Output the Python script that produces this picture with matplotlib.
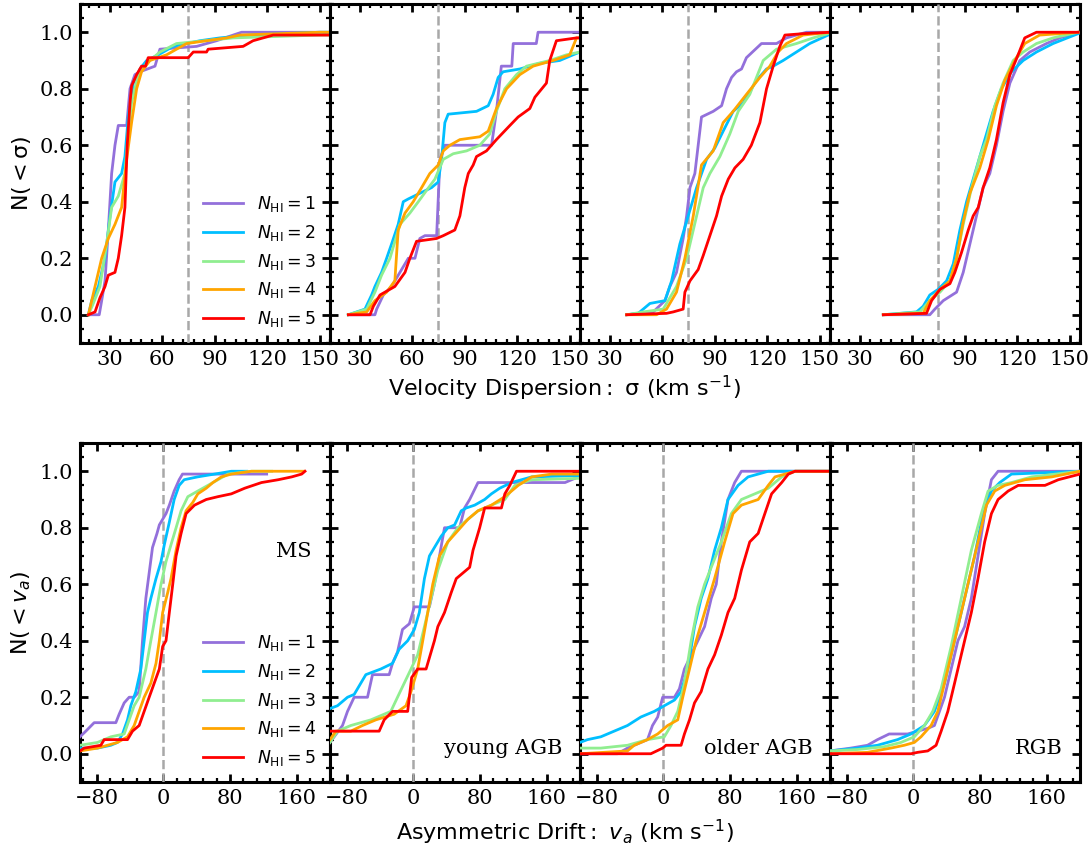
import matplotlib
matplotlib.use("Agg")
import matplotlib.pyplot as plt
from matplotlib.ticker import AutoMinorLocator

# ---------------- data ----------------
labels = [r'$N_{\rm HI} = 1$', r'$N_{\rm HI} = 2$', r'$N_{\rm HI} = 3$',
          r'$N_{\rm HI} = 4$', r'$N_{\rm HI} = 5$']
colors = ['#9370DB', '#00BFFF', '#90EE90', '#FFA500', '#FF0000']
groups = ['MS', 'young AGB', 'older AGB', 'RGB']

sig_ticks = [30, 60, 90, 120, 150]
va_ticks = [-80, 0, 80, 160]
y_ticks = [0.0, 0.2, 0.4, 0.6, 0.8, 1.0]
sig_ref = 75
va_ref = 0

# ---- velocity dispersion, MS ----
sig_ms_1_x = [17.8, 24.0, 25.4, 27.3, 29.2, 31.1, 33.0, 34.9, 39.7, 41.6, 44.4, 47.3, 55.9, 58.7, 79.7, 91.1, 105.4, 156]
sig_ms_1_y = [0, 0, 0.05, 0.12, 0.30, 0.50, 0.60, 0.67, 0.67, 0.80, 0.85, 0.86, 0.88, 0.94, 0.95, 0.97, 1.0, 1.0]
sig_ms_2_x = [17.8, 19.7, 23.5, 27.3, 30.2, 33.0, 36.8, 38.7, 40.6, 43.5, 47.3, 51.1, 57.8, 66.3, 74.0, 81.6, 93.0, 110, 150, 156]
sig_ms_2_y = [0, 0.05, 0.10, 0.20, 0.35, 0.47, 0.50, 0.56, 0.70, 0.82, 0.87, 0.90, 0.92, 0.95, 0.96, 0.97, 0.98, 0.99, 1.0, 1.0]
sig_ms_3_x = [17.8, 20.6, 24.4, 28.2, 31.1, 34.9, 38.7, 40.6, 42.5, 46.3, 51.1, 58.7, 68.2, 100.6, 150, 156]
sig_ms_3_y = [0, 0.04, 0.10, 0.25, 0.38, 0.42, 0.50, 0.65, 0.75, 0.85, 0.89, 0.93, 0.96, 0.98, 0.99, 0.99]
sig_ms_4_x = [17.8, 19.7, 21.6, 25.4, 29.2, 33.0, 36.8, 39.7, 42.5, 45.4, 48.2, 53.0, 62.5, 68.2, 74.0, 85.4, 96.8, 104.4, 150, 156]
sig_ms_4_y = [0, 0.05, 0.10, 0.20, 0.27, 0.32, 0.38, 0.55, 0.68, 0.80, 0.86, 0.90, 0.92, 0.94, 0.96, 0.97, 0.98, 0.99, 1.0, 1.0]
sig_ms_5_x = [17.8, 21.6, 24.4, 27.3, 29.2, 33.0, 34.9, 36.8, 38.7, 40.0, 41.6, 42.5, 45.4, 48.2, 50.5, 52.0, 74.9, 77.8, 85.4, 86.3, 106.3, 112, 123.5, 156]
sig_ms_5_y = [0, 0.01, 0.06, 0.10, 0.14, 0.15, 0.20, 0.28, 0.38, 0.60, 0.75, 0.81, 0.85, 0.88, 0.88, 0.91, 0.91, 0.93, 0.93, 0.94, 0.95, 0.97, 0.99, 0.99]

# ---- velocity dispersion, young AGB ----
sig_yagb_1_x = [23.5, 38.7, 39.7, 43.5, 48.2, 53.0, 57.8, 61.6, 64.4, 67.3, 74.0, 75.9, 78.7, 105.4, 108.2, 111.0, 117.0, 117.8, 131.0, 132.0, 156]
sig_yagb_1_y = [0, 0, 0.02, 0.07, 0.10, 0.15, 0.20, 0.20, 0.27, 0.28, 0.28, 0.55, 0.60, 0.60, 0.72, 0.88, 0.88, 0.96, 0.96, 1.0, 1.0]
sig_yagb_2_x = [23.5, 33.0, 36.8, 38.7, 42.5, 45.4, 48.2, 52.0, 54.9, 57.8, 64.4, 71.1, 74.9, 76.8, 78.7, 80.6, 96.8, 103.5, 106.3, 109.2, 112.0, 121.6, 133.0, 144.4, 152.0, 156]
sig_yagb_2_y = [0, 0.02, 0.07, 0.10, 0.15, 0.20, 0.25, 0.32, 0.40, 0.41, 0.43, 0.45, 0.47, 0.55, 0.68, 0.71, 0.72, 0.74, 0.78, 0.84, 0.86, 0.87, 0.89, 0.90, 0.92, 0.93]
sig_yagb_3_x = [23.5, 34.0, 38.7, 42.5, 47.3, 53.0, 58.7, 63.5, 68.2, 73.0, 77.8, 83.5, 91.1, 98.7, 104.4, 108.2, 113.0, 119.7, 125.4, 138.7, 148.2, 156]
sig_yagb_3_y = [0, 0.02, 0.08, 0.14, 0.20, 0.32, 0.36, 0.40, 0.44, 0.48, 0.55, 0.57, 0.58, 0.60, 0.64, 0.72, 0.80, 0.85, 0.88, 0.90, 0.92, 0.93]
sig_yagb_4_x = [23.5, 34.0, 38.7, 45.4, 50.1, 52.0, 55.9, 60.6, 65.4, 70.1, 74.9, 77.8, 81.6, 87.3, 98.7, 103.5, 108.2, 114.0, 121.6, 129.2, 140.6, 150.1, 154.0, 156]
sig_yagb_4_y = [0, 0.01, 0.05, 0.08, 0.12, 0.30, 0.36, 0.40, 0.45, 0.50, 0.53, 0.58, 0.60, 0.62, 0.63, 0.65, 0.73, 0.80, 0.85, 0.88, 0.90, 0.92, 0.98, 0.98]
sig_yagb_5_x = [23.5, 35.9, 37.8, 41.6, 50.1, 55.9, 58.7, 62.5, 74.0, 77.8, 84.4, 87.3, 90.1, 92.1, 94.9, 96.8, 102.5, 108.2, 115.9, 120.6, 127.3, 130.2, 136.8, 138.7, 142.5, 154.0, 156]
sig_yagb_5_y = [0, 0, 0.03, 0.07, 0.10, 0.15, 0.20, 0.26, 0.27, 0.28, 0.30, 0.35, 0.45, 0.50, 0.53, 0.56, 0.58, 0.62, 0.67, 0.70, 0.73, 0.77, 0.82, 0.90, 0.97, 0.98, 0.98]

# ---- velocity dispersion, older AGB ----
sig_oagb_1_x = [39.7, 54.9, 61.6, 64.4, 68.2, 72.0, 74.0, 75.9, 78.7, 80.6, 82.5, 89.2, 94.0, 96.8, 99.7, 102.5, 105.4, 108.2, 116.8, 125.4, 131.1, 142.5, 156]
sig_oagb_1_y = [0, 0.01, 0.05, 0.10, 0.15, 0.27, 0.35, 0.45, 0.50, 0.60, 0.70, 0.72, 0.74, 0.80, 0.84, 0.86, 0.87, 0.91, 0.96, 0.96, 0.98, 1.0, 1.0]
sig_oagb_2_x = [39.7, 46.3, 53.0, 61.6, 65.4, 70.1, 74.9, 79.7, 85.4, 90.1, 94.9, 100.6, 106.3, 114.0, 119.7, 123.5, 129.2, 136.8, 144.4, 154.9]
sig_oagb_2_y = [0, 0.005, 0.04, 0.05, 0.12, 0.25, 0.35, 0.45, 0.55, 0.59, 0.65, 0.72, 0.75, 0.83, 0.87, 0.88, 0.90, 0.93, 0.96, 0.99]
sig_oagb_3_x = [39.7, 49.2, 60.6, 68.2, 74.0, 79.7, 83.5, 87.3, 93.0, 98.7, 103.5, 110.1, 117.8, 125.4, 136.8, 146.4, 154.9]
sig_oagb_3_y = [0, 0.01, 0.02, 0.10, 0.20, 0.35, 0.45, 0.50, 0.56, 0.64, 0.72, 0.78, 0.90, 0.94, 0.96, 0.98, 0.995]
sig_oagb_4_x = [39.7, 56.8, 62.5, 68.2, 73.0, 77.8, 82.5, 89.2, 94.9, 100.6, 108.2, 115.9, 121.6, 126.3, 131.1, 140.6, 156]
sig_oagb_4_y = [0, 0, 0.02, 0.08, 0.20, 0.35, 0.53, 0.58, 0.68, 0.72, 0.78, 0.84, 0.88, 0.93, 0.96, 0.99, 1.0]
sig_oagb_5_x = [39.7, 62.5, 66.3, 72.0, 73.0, 75.9, 80.6, 83.5, 87.3, 91.1, 94.0, 97.8, 101.6, 106.3, 111.0, 115.9, 119.7, 123.5, 127.3, 130.2, 140.6, 156]
sig_oagb_5_y = [0, 0.005, 0.01, 0.02, 0.08, 0.12, 0.16, 0.21, 0.28, 0.35, 0.42, 0.48, 0.52, 0.55, 0.60, 0.68, 0.80, 0.88, 0.95, 0.99, 0.995, 1.0]

# ---- velocity dispersion, RGB ----
sig_rgb_1_x = [43.5, 70.1, 73.0, 77.8, 85.4, 89.2, 93.0, 96.8, 100.6, 104.4, 108.2, 112.0, 115.9, 121.6, 127.3, 136.8, 144.4, 154.9]
sig_rgb_1_y = [0, 0, 0.02, 0.05, 0.08, 0.15, 0.25, 0.35, 0.45, 0.50, 0.60, 0.72, 0.82, 0.90, 0.93, 0.96, 0.98, 1.0]
sig_rgb_2_x = [43.5, 53.0, 62.5, 66.3, 70.1, 74.9, 79.7, 83.5, 87.3, 91.1, 94.9, 98.7, 102.5, 106.3, 111.0, 116.8, 123.5, 131.1, 140.6, 154.9]
sig_rgb_2_y = [0, 0.005, 0.01, 0.03, 0.07, 0.09, 0.12, 0.18, 0.30, 0.40, 0.48, 0.56, 0.64, 0.72, 0.80, 0.86, 0.90, 0.93, 0.96, 0.995]
sig_rgb_3_x = [43.5, 64.4, 70.1, 75.9, 81.6, 85.4, 89.2, 94.0, 98.7, 102.5, 107.3, 112.0, 117.8, 123.5, 131.1, 140.6, 154.9]
sig_rgb_3_y = [0, 0.01, 0.05, 0.08, 0.12, 0.20, 0.32, 0.45, 0.56, 0.62, 0.74, 0.82, 0.90, 0.93, 0.96, 0.98, 1.0]
sig_rgb_4_x = [43.5, 66.3, 70.1, 75.9, 81.6, 85.4, 89.2, 93.0, 98.7, 103.5, 108.2, 113.0, 118.7, 124.4, 132.9, 154.9]
sig_rgb_4_y = [0, 0.005, 0.05, 0.09, 0.12, 0.20, 0.33, 0.43, 0.52, 0.62, 0.74, 0.83, 0.90, 0.96, 0.99, 1.0]
sig_rgb_5_x = [43.5, 68.2, 71.1, 75.9, 81.6, 84.4, 88.2, 92.1, 94.9, 97.8, 100.6, 104.4, 108.2, 112.0, 115.9, 120.6, 124.4, 131.1, 154.9]
sig_rgb_5_y = [0, 0.005, 0.05, 0.09, 0.11, 0.15, 0.22, 0.30, 0.35, 0.38, 0.45, 0.52, 0.62, 0.75, 0.85, 0.92, 0.98, 1.0, 1.0]

# ---- asymmetric drift, MS ----
va_ms_1_x = [-100, -93, -83, -57, -53, -47, -41, -35, -29, -25, -21, -17, -13, -7.6, -4.8, -0.8, 3.2, 7.2, 13, 19, 23, 124]
va_ms_1_y = [0.06, 0.08, 0.11, 0.11, 0.14, 0.18, 0.20, 0.20, 0.22, 0.40, 0.55, 0.64, 0.73, 0.78, 0.81, 0.83, 0.85, 0.88, 0.93, 0.97, 0.99, 0.99]
va_ms_2_x = [-100, -79, -63, -55, -49, -43, -39, -33, -27, -23, -19, -15, -8.8, -2.8, 1.2, 7.2, 13, 19, 25, 41, 61.5, 81.6, 100]
va_ms_2_y = [0.02, 0.02, 0.03, 0.04, 0.07, 0.12, 0.17, 0.22, 0.30, 0.40, 0.50, 0.55, 0.62, 0.68, 0.74, 0.82, 0.90, 0.95, 0.97, 0.98, 0.99, 1.0, 1.0]
va_ms_3_x = [-100, -79, -63, -47, -41, -35, -29, -21, -15, -8.8, -2.8, 3.2, 9.2, 15.3, 21.3, 29.4, 41.4, 53.5, 65.5, 77.6, 105.7, 130]
va_ms_3_y = [0.03, 0.04, 0.06, 0.07, 0.12, 0.17, 0.20, 0.30, 0.40, 0.50, 0.60, 0.68, 0.74, 0.80, 0.86, 0.91, 0.93, 0.95, 0.97, 0.99, 1.0, 1.0]
va_ms_4_x = [-100, -79, -55, -43, -35, -29, -23, -15, -8.8, -4.8, -0.8, 5.2, 9.2, 15.3, 21.3, 27.3, 35.4, 41.4, 51.5, 59.5, 69.6, 81.6, 105.7, 168]
va_ms_4_y = [0.01, 0.02, 0.04, 0.06, 0.10, 0.15, 0.20, 0.25, 0.32, 0.40, 0.50, 0.57, 0.62, 0.72, 0.80, 0.86, 0.89, 0.92, 0.94, 0.96, 0.98, 0.99, 1.0, 1.0]
va_ms_5_x = [-100, -95, -75, -71, -43, -37, -29, -23, -17, -10.9, -4.8, -0.8, 3.2, 7.2, 11.3, 15.3, 21.3, 27.3, 37.4, 51.5, 65.5, 81.6, 97.7, 117.8, 137.9, 154, 166, 170]
va_ms_5_y = [0.01, 0.02, 0.03, 0.05, 0.05, 0.08, 0.10, 0.15, 0.20, 0.25, 0.30, 0.38, 0.40, 0.50, 0.60, 0.70, 0.78, 0.85, 0.88, 0.90, 0.91, 0.92, 0.94, 0.96, 0.97, 0.98, 0.99, 1.0]

# ---- asymmetric drift, young AGB ----
va_yagb_1_x = [-100, -95, -85, -79, -71, -55, -49, -29, -25, -19, -13, -4.8, 1.2, 19.3, 25.3, 31.4, 37.4, 55.5, 61.5, 67.6, 77.6, 182, 198]
va_yagb_1_y = [0.04, 0.06, 0.10, 0.15, 0.20, 0.20, 0.28, 0.28, 0.32, 0.36, 0.44, 0.46, 0.52, 0.52, 0.60, 0.70, 0.80, 0.80, 0.87, 0.90, 0.96, 0.96, 0.98]
va_yagb_2_x = [-100, -91, -79, -71, -65, -57, -39, -25, -17, -6.8, 1.2, 7.2, 13.3, 19.3, 25.3, 33.4, 41.4, 49.5, 57.5, 63.5, 73.6, 85.6, 93.7, 103.7, 117.8, 142, 200]
va_yagb_2_y = [0.16, 0.17, 0.20, 0.21, 0.24, 0.28, 0.30, 0.32, 0.37, 0.40, 0.44, 0.50, 0.62, 0.70, 0.73, 0.77, 0.80, 0.81, 0.86, 0.87, 0.88, 0.90, 0.92, 0.94, 0.96, 0.98, 0.985]
va_yagb_3_x = [-100, -91, -75, -51, -27, -19, -10.9, -2.8, 5.2, 13.3, 21.3, 29.4, 41.4, 53.5, 65.5, 77.6, 93.7, 109.8, 121.8, 142, 200]
va_yagb_3_y = [0.04, 0.08, 0.10, 0.12, 0.15, 0.20, 0.25, 0.30, 0.35, 0.45, 0.55, 0.65, 0.75, 0.80, 0.83, 0.86, 0.88, 0.90, 0.95, 0.97, 0.975]
va_yagb_4_x = [-100, -93, -75, -61, -45, -23, -8.8, -2.8, 5.2, 11.3, 17.3, 23.3, 31.4, 41.4, 53.5, 65.5, 77.6, 93.7, 109.8, 125.9, 142, 166, 200]
va_yagb_4_y = [0.05, 0.08, 0.08, 0.10, 0.12, 0.14, 0.17, 0.22, 0.30, 0.40, 0.50, 0.60, 0.70, 0.75, 0.79, 0.83, 0.86, 0.88, 0.91, 0.95, 0.98, 0.99, 0.99]
va_yagb_5_x = [-100, -41, -35, -25, -6.8, -2, 5.2, 15.3, 21.3, 25.3, 29.4, 37.4, 45.4, 51.5, 67.6, 71.6, 79.6, 85.6, 105.7, 109.8, 115.8, 123.8, 200]
va_yagb_5_y = [0.08, 0.08, 0.12, 0.15, 0.15, 0.27, 0.30, 0.30, 0.36, 0.40, 0.45, 0.50, 0.57, 0.62, 0.66, 0.72, 0.80, 0.87, 0.87, 0.92, 0.95, 1.0, 1.0]

# ---- asymmetric drift, older AGB ----
va_oagb_1_x = [-100, -55, -43, -19, -13, -6.8, -0.8, 13.3, 19.3, 25.3, 33.4, 41.4, 49.5, 57.5, 63.5, 69.6, 77.6, 85.6, 93.7, 200]
va_oagb_1_y = [0, 0, 0.02, 0.05, 0.10, 0.13, 0.20, 0.20, 0.23, 0.30, 0.35, 0.40, 0.45, 0.55, 0.60, 0.75, 0.90, 0.96, 1.0, 1.0]
va_oagb_2_x = [-100, -91, -75, -59, -43, -27, -10.9, 1.2, 13.3, 21.3, 29.4, 37.4, 45.4, 53.5, 61.5, 69.6, 77.6, 89.7, 101.7, 125.9, 200]
va_oagb_2_y = [0.04, 0.05, 0.06, 0.08, 0.10, 0.13, 0.15, 0.17, 0.19, 0.22, 0.30, 0.45, 0.55, 0.62, 0.72, 0.80, 0.90, 0.95, 0.98, 1.0, 1.0]
va_oagb_3_x = [-100, -75, -43, -19, 1.2, 9.2, 17.3, 25.3, 33.4, 41.4, 49.5, 57.5, 69.6, 81.6, 93.7, 109.8, 125.9, 142, 158, 200]
va_oagb_3_y = [0.02, 0.02, 0.03, 0.05, 0.06, 0.10, 0.15, 0.25, 0.40, 0.52, 0.60, 0.66, 0.75, 0.85, 0.90, 0.92, 0.94, 0.98, 1.0, 1.0]
va_oagb_4_x = [-100, -43, -35, -19, -6.8, 5.2, 17.3, 23.3, 31.4, 39.4, 49.5, 61.5, 73.6, 83.6, 93.7, 113.8, 125.9, 134, 158, 200]
va_oagb_4_y = [0, 0.01, 0.03, 0.05, 0.07, 0.10, 0.12, 0.20, 0.30, 0.40, 0.50, 0.62, 0.75, 0.85, 0.88, 0.90, 0.95, 0.98, 1.0, 1.0]
va_oagb_5_x = [-100, -15, -0.8, 3.2, 21.3, 25.3, 31.4, 37.4, 45.4, 53.5, 61.5, 69.6, 77.6, 85.6, 93.7, 103.7, 113.8, 121.8, 129.9, 142, 150, 158, 200]
va_oagb_5_y = [0, 0, 0.02, 0.03, 0.03, 0.07, 0.12, 0.18, 0.22, 0.30, 0.35, 0.42, 0.50, 0.55, 0.65, 0.75, 0.78, 0.85, 0.92, 0.96, 0.99, 1.0, 1.0]

# ---- asymmetric drift, RGB ----
va_rgb_1_x = [-100, -75, -55, -43, -29, -6.8, 5.2, 17.3, 25.3, 37.4, 45.4, 53.5, 61.5, 69.6, 77.6, 85.6, 93.7, 101.7, 200]
va_rgb_1_y = [0.01, 0.02, 0.03, 0.05, 0.07, 0.07, 0.08, 0.09, 0.10, 0.20, 0.30, 0.40, 0.45, 0.55, 0.70, 0.85, 0.97, 1.0, 1.0]
va_rgb_2_x = [-100, -67, -43, -19, -2.8, 13.3, 25.3, 37.4, 49.5, 61.5, 73.6, 83.6, 93.7, 103.7, 117.8, 200]
va_rgb_2_y = [0.01, 0.02, 0.03, 0.05, 0.07, 0.10, 0.15, 0.25, 0.40, 0.55, 0.70, 0.85, 0.93, 0.96, 0.99, 1.0]
va_rgb_3_x = [-100, -67, -35, -14.9, 1.2, 13.3, 23.3, 33.4, 45.4, 57.5, 69.6, 81.6, 89.7, 101.7, 117.8, 142, 200]
va_rgb_3_y = [0.01, 0.015, 0.025, 0.04, 0.06, 0.10, 0.15, 0.23, 0.38, 0.55, 0.72, 0.85, 0.93, 0.95, 0.96, 0.98, 1.0]
va_rgb_4_x = [-100, -55, -27, -10.9, 1.2, 9.2, 21.3, 29.4, 41.4, 53.5, 65.5, 77.6, 87.7, 97.7, 109.8, 133.9, 166, 200]
va_rgb_4_y = [0, 0.005, 0.02, 0.03, 0.04, 0.06, 0.10, 0.15, 0.30, 0.45, 0.60, 0.75, 0.88, 0.93, 0.95, 0.97, 0.98, 1.0]
va_rgb_5_x = [-100, -2.8, 5.2, 17.3, 27.3, 33.4, 41.4, 49.5, 57.5, 69.6, 77.6, 85.6, 93.7, 101.7, 113.8, 125.9, 158, 174, 200]
va_rgb_5_y = [0, 0, 0.005, 0.01, 0.03, 0.08, 0.15, 0.25, 0.35, 0.50, 0.62, 0.75, 0.85, 0.90, 0.93, 0.95, 0.95, 0.97, 0.99]

sig_panels = [
    [(sig_ms_1_x, sig_ms_1_y), (sig_ms_2_x, sig_ms_2_y), (sig_ms_3_x, sig_ms_3_y), (sig_ms_4_x, sig_ms_4_y), (sig_ms_5_x, sig_ms_5_y)],
    [(sig_yagb_1_x, sig_yagb_1_y), (sig_yagb_2_x, sig_yagb_2_y), (sig_yagb_3_x, sig_yagb_3_y), (sig_yagb_4_x, sig_yagb_4_y), (sig_yagb_5_x, sig_yagb_5_y)],
    [(sig_oagb_1_x, sig_oagb_1_y), (sig_oagb_2_x, sig_oagb_2_y), (sig_oagb_3_x, sig_oagb_3_y), (sig_oagb_4_x, sig_oagb_4_y), (sig_oagb_5_x, sig_oagb_5_y)],
    [(sig_rgb_1_x, sig_rgb_1_y), (sig_rgb_2_x, sig_rgb_2_y), (sig_rgb_3_x, sig_rgb_3_y), (sig_rgb_4_x, sig_rgb_4_y), (sig_rgb_5_x, sig_rgb_5_y)],
]
va_panels = [
    [(va_ms_1_x, va_ms_1_y), (va_ms_2_x, va_ms_2_y), (va_ms_3_x, va_ms_3_y), (va_ms_4_x, va_ms_4_y), (va_ms_5_x, va_ms_5_y)],
    [(va_yagb_1_x, va_yagb_1_y), (va_yagb_2_x, va_yagb_2_y), (va_yagb_3_x, va_yagb_3_y), (va_yagb_4_x, va_yagb_4_y), (va_yagb_5_x, va_yagb_5_y)],
    [(va_oagb_1_x, va_oagb_1_y), (va_oagb_2_x, va_oagb_2_y), (va_oagb_3_x, va_oagb_3_y), (va_oagb_4_x, va_oagb_4_y), (va_oagb_5_x, va_oagb_5_y)],
    [(va_rgb_1_x, va_rgb_1_y), (va_rgb_2_x, va_rgb_2_y), (va_rgb_3_x, va_rgb_3_y), (va_rgb_4_x, va_rgb_4_y), (va_rgb_5_x, va_rgb_5_y)],
]

# ---------------- style ----------------
plt.rcParams['font.family'] = 'serif'
plt.rcParams['font.serif'] = ['DejaVu Serif']
plt.rcParams['mathtext.fontset'] = 'dejavusans'

W, H = 1092, 848
fig = plt.figure(figsize=(W / 100, H / 100), dpi=100)

def px_axes(x0, y0, x1, y1):
    return fig.add_axes([x0 / W, 1 - y1 / H, (x1 - x0) / W, (y1 - y0) / H])

def style(ax, xlim, major, nminor, show_y):
    ax.set_xlim(*xlim)
    ax.set_ylim(-0.1, 1.1)
    ax.set_xticks(major)
    ax.xaxis.set_minor_locator(AutoMinorLocator(nminor))
    ax.set_yticks(y_ticks)
    ax.yaxis.set_minor_locator(AutoMinorLocator(4))
    for s in ax.spines.values():
        s.set_linewidth(2.2)
    ax.tick_params(which='both', direction='in', top=True, right=True,
                   labelsize=15, pad=5)
    ax.tick_params(which='major', length=6, width=2)
    ax.tick_params(which='minor', length=3.2, width=1.6)
    if not show_y:
        ax.tick_params(labelleft=False)

left, width = 80, 250
for row in range(2):
    y0, y1 = (4, 343) if row == 0 else (443, 782)
    panels = sig_panels if row == 0 else va_panels
    for i in range(4):
        ax = px_axes(left + i * width, y0, left + (i + 1) * width, y1)
        for (xs, ys), c, lab in zip(panels[i], colors, labels):
            ax.plot(xs, ys, color=c, lw=2, label=lab, zorder=4)
        if row == 0:
            ax.axvline(sig_ref, color='#a8a8a8', ls='--', lw=1.8, zorder=3)
            style(ax, (13, 156), sig_ticks, 5, i == 0)
        else:
            ax.axvline(va_ref, color='#a8a8a8', ls='--', lw=1.8, zorder=3)
            style(ax, (-100, 200), va_ticks, 5, i == 0)
            if i == 0:
                ax.text(0.925, 0.665, groups[i], transform=ax.transAxes,
                        ha='right', va='baseline', fontsize=15)
            else:
                ax.text(0.93, 0.083, groups[i], transform=ax.transAxes,
                        ha='right', va='baseline', fontsize=15)
        if i == 0:
            ax.legend(loc='lower right', frameon=False, fontsize=12.5,
                      handlelength=2.3, borderaxespad=0.4)
            if row == 0:
                ax.set_ylabel(r'$\mathrm{N(<\sigma)}$', fontsize=16, labelpad=5)
            else:
                ax.set_ylabel(r'$\mathrm{N(<}v_a\mathrm{)}$', fontsize=16, labelpad=5)

fig.text(564 / W, 1 - 388 / H, r'$\mathrm{Velocity\ Dispersion:\ \sigma\ (km\ s^{-1})}$',
         ha='center', va='center', fontsize=16)
fig.text(565 / W, 1 - 832 / H, r'$\mathrm{Asymmetric\ Drift:}\ v_a\ \mathrm{(km\ s^{-1})}$',
         ha='center', va='center', fontsize=16)

fig.savefig('out.png', dpi=100)
